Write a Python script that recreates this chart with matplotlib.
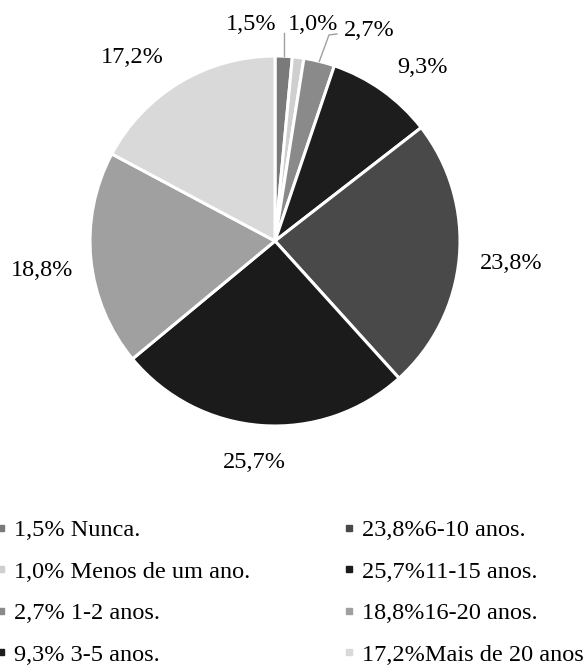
import numpy as np
import matplotlib
matplotlib.use("Agg")
import matplotlib.pyplot as plt
from matplotlib.lines import Line2D

# anos de experiência
categorias = ["Nunca.", "Menos de um ano.", "1-2 anos.", "3-5 anos.",
              "6-10 anos.", "11-15 anos.", "16-20 anos.", "Mais de 20 anos"]
valores = [1.5, 1.0, 2.7, 9.3, 23.8, 25.7, 18.8, 17.2]
cores = ["#7a7a7a", "#cfcfcf", "#8a8a8a", "#1d1d1d",
         "#494949", "#1b1b1b", "#a0a0a0", "#d9d9d9"]
# posição dos rótulos de percentagem (raio 1 = borda da pizza)
pos_rotulos = [(-0.13, 1.17), (0.205, 1.17), (0.51, 1.14), (0.795, 0.94),
               (1.276, -0.12), (-0.114, -1.195), (-1.26, -0.157), (-0.77, 0.99)]


def pct(v):
    return f"{v:.1f}%".replace(".", ",")


plt.rcParams["font.family"] = ["Liberation Serif", "DejaVu Serif"]
FS = 17.5

W, H = 585, 667
cx, cy, r = 275, 241, 185
fig = plt.figure(figsize=(W / 100, H / 100), dpi=100)
ax = fig.add_axes([0, 0, 1, 1])

wedges, _ = ax.pie(valores, colors=cores, startangle=90, counterclock=False,
                   radius=1.0, wedgeprops=dict(edgecolor="white", linewidth=2.2))
# limites depois do pie, que os redefine
ax.set_xlim(-cx / r, (W - cx) / r)
ax.set_ylim(-(H - cy) / r, cy / r)
ax.axis("off")

for v, (tx, ty) in zip(valores, pos_rotulos):
    ax.text(tx, ty, pct(v), ha="center", va="center", fontsize=FS)

# linhas de chamada das fatias pequenas
for i, w in enumerate(wedges[:3]):
    ang = np.deg2rad((w.theta1 + w.theta2) / 2)
    ex, ey = np.cos(ang), np.sin(ang)
    if i == 0:
        ax.plot([ex, ex], [ey, 1.124], color="#a0a0a0", lw=1)
    elif i == 2:
        ax.plot([ex, 0.292, 0.335], [ey, 1.114, 1.119], color="#a0a0a0", lw=1)

handles = [Line2D([], [], marker="s", linestyle="none", markersize=4.3,
                  markerfacecolor=c, markeredgecolor=c) for c in cores]
rotulos = [pct(v) + (" " if i < 4 else "") + c
           for i, (v, c) in enumerate(zip(valores, categorias))]
fig.legend(handles, rotulos, loc="upper left", bbox_to_anchor=(-0.008, 0.2215),
           ncol=2, frameon=False, fontsize=FS, handlelength=0.5,
           handletextpad=0.25, labelspacing=0.8, columnspacing=3.85,
           borderaxespad=0, borderpad=0)

fig.savefig("out.png", dpi=100)
